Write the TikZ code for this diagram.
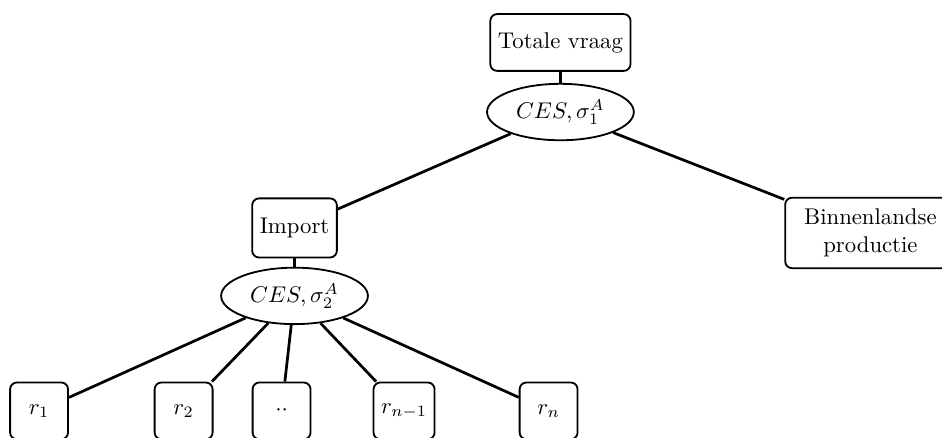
\documentclass[tikz,border=0pt]{standalone}
\usepackage{amsmath}
\usetikzlibrary{shapes.geometric,positioning}

\begin{document}
\begin{tikzpicture}[
	on grid, % distances between node centres
	thick, % line style of the nodes
	R/.style={rectangle, draw=black, rounded corners=3pt, minimum width=25.5pt, minimum height=25pt, font=\normalsize},  %boxes
	E/.style={ellipse, draw=black, minimum width=64pt, minimum height=24pt, font=\normalsize},                          %CES nests
	L/.style={line width=1.2pt},
	]
	\clip (-246.6pt,18.7pt) rectangle (167.9pt,-173.6pt);

	% Nodes and their relative positions
	\node[R, minimum width=60pt] (T) {Totale vraag};
	\node[E] (C1) [below = 30.6pt of T] {$CES,\sigma_1^A$};
	\node[R, minimum height=26pt] (I) [below left = 51pt and 117pt of C1] {Import};
	\node[R, minimum width=75pt, minimum height=31pt, align=center] (B) [below right = 53.2pt and 136.4pt of C1] {Binnenlandse\\productie};
	\node[E, minimum height=23pt] (C2) [below = 29.9pt of I] {$CES,\sigma_2^A$};
	\node[R] (R1) [below left  = 50.6pt and 112.4pt of C2] {$r_1$};
	\node[R] (R2) [below left  = 50.6pt and 48.8pt of C2] {$r_2$};
	\node[R] (RD) [below left  = 50.6pt and 5.7pt of C2] {$\cdot\cdot$};
	\node[R] (RM) [below right = 50.6pt and 48.2pt of C2] {$r_{n-1}$};
	\node[R] (RN) [below right = 50.6pt and 111.8pt of C2] {$r_n$};

	% Paths connecting nodes
	\path[L] (T) edge (C1);
	\path[L] (C1) edge (I);
	\path[L] (C1) edge (B);
	\path[L] (I) edge (C2);
	\path[L] (C2) edge (R1);
	\path[L] (C2) edge (R2);
	\path[L] (C2) edge (RD);
	\path[L] (C2) edge (RM);
	\path[L] (C2) edge (RN);

\end{tikzpicture}
\end{document}
